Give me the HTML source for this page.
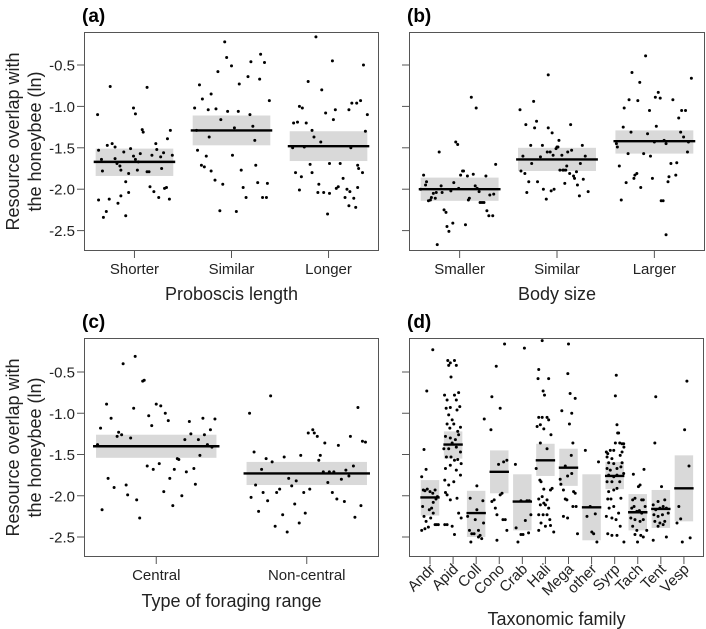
<!DOCTYPE html>
<html><head><meta charset="utf-8">
<style>
html,body{margin:0;padding:0;background:#fff;}
svg{display:block;font-family:"Liberation Sans",Arial,sans-serif;}
</style></head>
<body>
<svg id="chart" width="706" height="629" viewBox="0 0 706 629" xmlns="http://www.w3.org/2000/svg"></svg>
<script>
// ---------- Panel (a) Proboscis length ----------
const aCats = ["Shorter","Similar","Longer"];
const aMeans = [-1.67,-1.29,-1.48];
const aLo = [-1.84,-1.47,-1.66];
const aHi = [-1.51,-1.11,-1.30];
const aVals = [
 [-1.10,-0.76,-1.53,-1.78,-1.47,-1.45,-1.49,-1.77,-1.63,-1.69,-1.72,-1.91,-1.55,-1.81,-1.51,-1.60,-1.64,-1.67,-1.57,-1.02,-1.09,-1.28,-1.31,-0.77,-1.77,-1.79,-1.59,-1.45,-1.52,-1.61,-1.75,-1.56,-1.39,-1.29,-1.59,-1.79,-2.13,-2.34,-2.27,-2.12,-2.17,-2.08,-2.32,-2.04,-1.97,-2.03,-2.10,-1.99,-1.98,-2.12,-1.64],
 [-1.02,-0.74,-0.91,-0.85,-1.04,-1.03,-0.58,-1.16,-0.22,-0.41,-0.51,-1.06,-1.06,-0.73,-0.64,-0.46,-0.67,-0.37,-0.47,-0.93,-1.10,-1.41,-1.24,-1.26,-1.37,-1.53,-1.71,-1.73,-1.60,-1.89,-1.94,-1.59,-1.77,-1.98,-2.10,-1.71,-1.92,-2.10,-2.10,-1.93,-2.26,-2.27,-1.78,-1.29],
 [-0.16,-0.45,-0.70,-0.80,-1.00,-1.02,-1.20,-1.19,-1.20,-1.29,-1.08,-1.16,-1.04,-1.04,-0.96,-0.96,-1.37,-1.43,-1.50,-1.49,-1.50,-1.80,-1.85,-2.01,-1.70,-1.80,-1.94,-2.04,-2.04,-2.05,-2.30,-1.69,-1.69,-1.99,-1.97,-1.87,-2.10,-2.00,-2.03,-2.11,-2.20,-1.71,-0.50,-1.10,-1.30,-1.80,-1.75,-0.93,-2.22,-1.98]
];
const aJit = [
 [-0.38,-0.25,-0.37,-0.33,-0.28,-0.23,-0.20,-0.14,-0.20,-0.18,-0.15,-0.09,-0.11,-0.06,-0.04,-0.01,0.01,0.04,0.06,-0.01,0.01,0.08,0.09,0.13,0.03,0.15,0.18,0.22,0.23,0.27,0.28,0.30,0.34,0.37,0.39,0.13,-0.37,-0.32,-0.29,-0.26,-0.17,-0.14,-0.09,-0.06,0.16,0.20,0.25,0.31,0.33,0.36,-0.34],
 [-0.38,-0.33,-0.30,-0.21,-0.24,-0.16,-0.14,-0.11,-0.07,-0.05,0,-0.04,0.07,0.08,0.17,0.20,0.29,0.30,0.34,0.39,0.19,0.24,0.22,0.03,-0.23,-0.35,-0.31,-0.28,-0.26,-0.17,-0.09,0.01,0.10,0.12,0.15,0.25,0.27,0.32,0.36,0.37,-0.12,0.05,-0.21,-0.36],
 [-0.13,0.04,-0.21,-0.07,-0.30,-0.27,-0.36,-0.32,-0.23,-0.17,-0.03,0.05,0.07,0.21,0.24,0.29,-0.15,-0.08,-0.37,-0.25,0.23,-0.34,-0.28,-0.30,-0.19,-0.17,-0.10,-0.11,-0.05,0.01,-0.01,0.01,0.12,0.08,0.10,0.15,0.17,0.19,0.22,0.26,0.21,0.30,0.36,0.40,0.38,0.35,0.31,0.33,0.28,0.30]
];
// ---------- Panel (b) Body size ----------
const bCats = ["Smaller","Similar","Larger"];
const bMeans = [-2.00,-1.64,-1.42];
const bLo = [-2.14,-1.78,-1.57];
const bHi = [-1.86,-1.50,-1.29];
const bVals = [
 [-1.83,-1.95,-1.91,-2.14,-2.13,-2.10,-2.05,-2.11,-2.04,-1.55,-1.96,-2.04,-2.25,-2.28,-2.45,-2.51,-2.41,-2.67,-2.02,-1.92,-1.43,-1.46,-1.99,-1.83,-1.78,-1.78,-2.43,-1.84,-2.13,-2.11,-0.89,-1.82,-1.96,-1.02,-1.99,-2.03,-2.16,-2.16,-2.16,-1.84,-2.26,-2.32,-2.07,-2.32,-2.06,-1.70,-2.00],
 [-1.04,-1.78,-1.60,-1.81,-1.22,-2.04,-1.91,-1.47,-1.69,-0.94,-1.26,-1.18,-1.91,-1.61,-1.47,-2.00,-2.12,-1.55,-1.26,-0.62,-1.55,-2.02,-1.32,-1.59,-2.00,-1.51,-1.49,-1.49,-1.41,-1.77,-1.59,-1.77,-1.77,-1.93,-1.72,-1.55,-1.81,-1.22,-1.53,-1.84,-1.87,-1.79,-1.95,-2.08,-1.69,-1.47,-1.88,-1.60,-2.03,-1.77],
 [-1.45,-1.49,-1.72,-2.13,-1.25,-1.02,-1.92,-1.57,-0.92,-1.31,-0.59,-1.87,-1.83,-1.81,-0.93,-0.71,-1.98,-1.57,-0.39,-1.33,-1.05,-1.60,-1.87,-1.43,-0.89,-1.24,-0.83,-0.90,-2.14,-2.14,-1.41,-1.45,-1.91,-1.85,-1.69,-0.92,-1.83,-1.68,-1.14,-1.31,-1.05,-1.37,-1.05,-1.55,-1.43,-0.66,-2.55]
];
const bJit = [
 [-0.37,-0.35,-0.34,-0.32,-0.30,-0.29,-0.27,-0.25,-0.24,-0.21,-0.19,-0.18,-0.16,-0.14,-0.13,-0.11,-0.07,-0.23,-0.09,-0.06,-0.04,-0.02,-0.01,0.01,0.03,0.04,0.06,0.08,0.09,0.10,0.12,0.14,0.16,0.17,0.18,0.20,0.21,0.23,0.25,0.27,0.28,0.30,0.31,0.34,0.35,0.37,-0.40],
 [-0.38,-0.37,-0.35,-0.33,-0.32,-0.31,-0.29,-0.27,-0.26,-0.24,-0.23,-0.21,-0.20,-0.17,-0.15,-0.14,-0.11,-0.10,-0.09,-0.09,-0.07,-0.06,-0.05,-0.04,-0.03,-0.01,0.00,0.01,0.02,0.03,0.05,0.06,0.07,0.08,0.10,0.11,0.13,0.14,0.15,0.17,0.18,0.20,0.21,0.23,0.24,0.26,0.27,0.29,0.32,0.09],
 [-0.39,-0.38,-0.36,-0.34,-0.32,-0.31,-0.29,-0.27,-0.26,-0.24,-0.23,-0.21,-0.20,-0.18,-0.17,-0.15,-0.14,-0.11,-0.09,-0.07,-0.05,-0.04,-0.02,0.00,0.01,0.02,0.04,0.06,0.07,0.09,0.10,0.12,0.14,0.15,0.17,0.19,0.22,0.23,0.25,0.27,0.28,0.30,0.32,0.34,0.35,0.38,0.12]
];
// ---------- Panel (c) Foraging range ----------
const cCats = ["Central","Non-central"];
const cMeans = [-1.40,-1.73];
const cLo = [-1.54,-1.87];
const cHi = [-1.26,-1.59];
const cVals = [
 [-1.38,-1.18,-2.17,-0.89,-1.79,-1.06,-1.90,-1.28,-1.23,-1.26,-0.40,-1.87,-1.99,-1.30,-0.94,-0.31,-2.05,-2.27,-0.61,-0.60,-1.64,-1.03,-1.15,-1.68,-0.89,-1.61,-0.91,-1.95,-1.00,-1.09,-1.79,-2.12,-1.68,-1.55,-1.56,-2.00,-1.32,-1.71,-1.10,-1.25,-1.67,-1.86,-1.32,-1.51,-1.06,-1.26,-1.38,-1.20,-1.41,-1.07],
 [-1.00,-2.02,-1.47,-1.87,-2.19,-1.68,-1.96,-1.55,-2.06,-0.79,-1.59,-2.37,-1.96,-1.92,-2.23,-1.53,-2.44,-1.79,-1.88,-2.10,-1.82,-2.33,-1.51,-1.96,-2.21,-1.24,-1.92,-1.20,-1.24,-1.28,-1.57,-1.51,-1.71,-1.36,-1.84,-1.71,-1.96,-1.71,-2.04,-1.39,-1.80,-2.07,-1.69,-1.76,-1.28,-1.64,-2.26,-0.93,-2.12,-1.34,-1.35]
];
const cJit = [
 [-0.39,-0.37,-0.36,-0.33,-0.32,-0.30,-0.28,-0.26,-0.25,-0.23,-0.22,-0.20,-0.19,-0.17,-0.15,-0.14,-0.13,-0.11,-0.09,-0.08,-0.06,-0.05,-0.03,-0.02,0.00,0.02,0.03,0.05,0.06,0.08,0.09,0.11,0.12,0.14,0.15,0.17,0.19,0.20,0.22,0.23,0.25,0.26,0.28,0.29,0.31,0.32,0.34,0.36,0.37,0.39],
 [-0.38,-0.37,-0.35,-0.34,-0.32,-0.30,-0.29,-0.27,-0.26,-0.24,-0.23,-0.21,-0.20,-0.18,-0.16,-0.15,-0.13,-0.12,-0.10,-0.08,-0.07,-0.05,-0.04,-0.02,-0.01,0.01,0.02,0.04,0.05,0.07,0.08,0.09,0.11,0.12,0.14,0.15,0.17,0.18,0.20,0.21,0.23,0.25,0.26,0.28,0.29,0.31,0.32,0.34,0.36,0.37,0.39]
];
// ---------- Panel (d) Taxonomic family ----------
const dCats = ["Andr","Apid","Coll","Cono","Crab","Hali","Mega","other","Syrp","Tach","Tent","Vesp"];
const dMeans = [-2.02,-1.38,-2.21,-1.71,-2.07,-1.57,-1.66,-2.14,-1.76,-2.20,-2.16,-1.91];
const dLo = [-2.24,-1.55,-2.50,-1.97,-2.42,-1.76,-1.88,-2.54,-1.92,-2.42,-2.39,-2.31];
const dHi = [-1.81,-1.22,-1.94,-1.45,-1.74,-1.37,-1.43,-1.74,-1.59,-1.98,-1.93,-1.51];
const dVals = [
 [-0.23,-0.73,-1.44,-1.68,-1.77,-1.93,-1.94,-1.92,-1.95,-1.97,-1.93,-2.01,-2.13,-2.25,-2.31,-2.17,-2.15,-2.21,-2.35,-2.35,-2.35,-2.42,-2.40,-2.38,-2.27,-2.04,-2.08],
 [-0.36,-0.39,-0.36,-0.42,-0.42,-0.56,-0.78,-0.84,-0.93,-0.78,-0.84,-0.75,-0.94,-1.02,-1.08,-0.96,-0.92,-1.13,-1.18,-1.13,-1.22,-1.17,-1.28,-1.30,-1.32,-1.26,-1.43,-1.43,-1.36,-1.41,-1.47,-1.53,-1.53,-1.57,-1.56,-1.61,-1.67,-1.63,-1.69,-1.75,-1.81,-1.87,-1.83,-2.03,-1.99,-2.05,-1.96,-2.21,-2.27,-2.35,-2.37,-2.47,-2.35],
 [-1.07,-1.88,-2.06,-2.03,-2.25,-2.42,-2.46,-2.46,-2.56,-2.29,-2.42,-2.48,-2.52,-2.33,-2.50,-2.17],
 [-0.16,-0.43,-0.80,-0.94,-1.20,-1.62,-1.59,-2.05,-2.07,-2.15,-2.23,-1.97,-2.29,-2.29,-2.42,-2.54,-1.99,-1.57],
 [-0.21,-1.62,-2.06,-2.06,-2.06,-2.39,-2.47,-2.47,-2.45,-2.30,-2.56,-2.23],
 [-0.12,-0.47,-0.58,-0.58,-0.73,-0.78,-1.05,-1.05,-1.05,-1.08,-1.16,-1.14,-1.19,-1.26,-1.36,-1.43,-1.81,-1.83,-1.92,-2.04,-2.01,-2.05,-1.93,-1.91,-2.11,-2.11,-2.15,-2.23,-2.23,-2.23,-2.29,-2.33,-2.37,-2.36,-2.42,-2.44,-2.09,-1.67],
 [-0.16,-0.52,-0.76,-0.82,-0.97,-1.00,-1.13,-1.36,-1.51,-1.64,-1.73,-1.76,-1.80,-1.86,-1.93,-2.04,-2.05,-1.95,-1.97,-2.13,-2.13,-2.25,-2.27,-2.46],
 [-1.45,-1.59,-2.25,-2.22,-2.44,-2.46,-2.56,-2.13],
 [-0.54,-0.79,-1.14,-1.24,-1.24,-1.36,-1.36,-1.37,-1.37,-1.41,-1.47,-1.49,-1.45,-1.45,-1.53,-1.55,-1.51,-1.60,-1.61,-1.60,-1.67,-1.69,-1.67,-1.65,-1.73,-1.75,-1.77,-1.75,-1.83,-1.83,-1.83,-1.95,-1.93,-1.91,-2.04,-2.04,-2.03,-2.15,-2.13,-2.21,-2.25,-2.27,-2.29,-2.37,-2.46,-2.48,-2.48,-2.56,-1.47],
 [-1.74,-1.68,-1.87,-1.89,-2.05,-2.05,-2.05,-2.03,-2.15,-2.13,-2.19,-2.18,-2.21,-2.13,-2.27,-2.29,-2.31,-2.29,-2.37,-2.42,-2.48,-2.50,-2.47,-2.56,-2.42],
 [-0.80,-1.36,-1.89,-2.11,-2.07,-2.05,-2.15,-2.13,-2.17,-2.15,-2.23,-2.25,-2.23,-2.21,-2.31,-2.33,-2.31,-2.37,-2.50,-2.54,-2.35],
 [-0.61,-1.20,-1.64,-2.13,-2.33,-2.28,-2.56,-2.51]
];
const dJit = [
 [0.12,-0.14,-0.26,-0.17,-0.36,-0.29,-0.22,-0.12,0,0.12,0.22,0.32,-0.32,-0.26,-0.17,-0.03,0.07,0.14,0.22,0.29,0.36,-0.36,-0.22,-0.07,0.03,0.26,0.14],
 [-0.23,-0.12,0.06,0.14,-0.19,-0.09,-0.37,-0.26,-0.12,0.06,0.14,0.24,-0.30,-0.19,-0.04,0.17,0.29,-0.26,-0.14,0.03,0.20,0.32,-0.33,-0.12,0.10,0.24,-0.40,-0.19,-0.04,0.14,0.32,-0.29,-0.09,0.06,0.20,0.35,-0.33,-0.12,0.14,0.32,-0.36,-0.19,0.03,0.17,-0.26,-0.12,-0.33,0.24,0.35,-0.26,-0.04,0.06,-0.36],
 [0.35,0.03,0.29,-0.26,-0.37,-0.29,-0.19,-0.09,-0.23,-0.04,0.10,0.17,0.24,0.32,0.10,0.03],
 [0.23,-0.13,-0.32,0.04,-0.36,-0.03,0.19,-0.22,-0.32,-0.17,-0.10,0.12,0.16,0.26,0.33,-0.10,0.04,0.33],
 [0.09,-0.30,0.20,0.30,-0.06,-0.27,-0.06,0.03,0.27,0.13,-0.19,0.37],
 [-0.14,-0.29,-0.32,0.14,-0.10,-0.04,-0.29,-0.14,0.07,0.14,-0.36,-0.22,-0.07,0.24,-0.22,0.07,-0.24,-0.19,-0.07,-0.29,-0.14,0.07,0.22,0.29,-0.22,0,0.14,-0.29,-0.10,0.07,0.19,-0.19,0,0.22,-0.29,0.36,-0.07,-0.40],
 [0,-0.03,0.07,0.29,-0.29,0.14,0.04,0.19,0.12,-0.14,0.14,-0.04,-0.36,-0.33,-0.22,-0.14,-0.07,0.22,0.29,0.19,0.33,-0.22,-0.04,0.39],
 [-0.27,0.30,-0.20,0.16,0.01,0.09,0.23,-0.06],
 [0.07,0.03,0.10,0.13,0.17,0.03,0.22,0.32,0.39,0.40,-0.36,-0.30,-0.19,-0.04,-0.33,-0.12,0.24,-0.26,-0.04,0.32,-0.33,-0.19,0.10,0.27,0.39,-0.26,-0.04,0.10,-0.33,-0.12,0.22,-0.26,-0.04,0.10,-0.30,-0.16,0.27,-0.24,-0.04,0.17,-0.36,-0.12,0.06,0.24,-0.30,-0.12,0.10,0.40,0.32],
 [-0.19,0.27,0.10,0.03,0.17,0.24,-0.22,-0.12,-0.26,-0.16,-0.04,0.07,0.17,0.32,-0.30,-0.12,0.10,0.24,-0.22,-0.04,0.13,0.24,-0.12,-0.01,0.39],
 [-0.22,-0.26,0.03,-0.33,-0.12,0.17,-0.04,0.10,-0.22,0.24,-0.30,-0.12,0.07,0.32,-0.26,-0.04,0.17,-0.12,0.24,-0.33,0.10],
 [0.13,0.03,0.22,-0.22,-0.30,-0.14,-0.07,0.27]
];
const yTicks = [-0.5,-1.0,-1.5,-2.0,-2.5];
const yTickLabels = ["-0.5","-1.0","-1.5","-2.0","-2.5"];

const NS = "http://www.w3.org/2000/svg";
const svg = document.getElementById('chart');
function mk(tag, attrs, parent, text){
  const e = document.createElementNS(NS, tag);
  for (const k in attrs) e.setAttribute(k, attrs[k]);
  if (text !== undefined) e.textContent = text;
  (parent||svg).appendChild(e);
  return e;
}

function panel(cfg){
  const g = mk('g', {});
  
  
  const L=cfg.box[0], T=cfg.box[1], R=cfg.box[2], B=cfg.box[3];
  const xs = v => L + (v - cfg.xdom[0]) / (cfg.xdom[1]-cfg.xdom[0]) * (R-L);
  const unit = (R-L)/(cfg.xdom[1]-cfg.xdom[0]);
  const ys = v => cfg.y0 + (-0.5 - v) * cfg.yk;
  cfg.cats.forEach((c,i)=>{
    const cx = xs(i+1);
    const band = mk('rect',{x:cx-0.4*unit, y:ys(cfg.hi[i]), width:0.8*unit, height:ys(cfg.lo[i])-ys(cfg.hi[i]), fill:'#d9d9d9'}, g);
    
    
  });
  cfg.cats.forEach((c,i)=>{
    const cx = xs(i+1);
    const vals = cfg.vals[i], jit = cfg.jit[i];
    vals.forEach((v,j)=>{
      const p = mk('circle',{cx:cx + jit[j]*unit, cy:ys(v), r:1.5, fill:'#000'}, g);
      
      
    });
  });
  cfg.cats.forEach((c,i)=>{
    const cx = xs(i+1);
    const ml = mk('line',{x1:cx-0.42*unit, x2:cx+0.42*unit, y1:ys(cfg.means[i]), y2:ys(cfg.means[i]), stroke:'#000', 'stroke-width':2.4}, g);
    
    
  });
  const box = mk('rect',{x:L+0.5, y:T+0.5, width:R-L-1, height:B-T-1, fill:'none', stroke:'#555', 'stroke-width':1}, g);
  
  
  yTicks.forEach((t,i)=>{
    const tk = mk('line',{x1:L-7, x2:L, y1:ys(t), y2:ys(t), stroke:'#555'}, g);
    
    
    if (cfg.ylabels){
      const tl = mk('text',{x:L-9, y:ys(t)+5.5, 'text-anchor':'end', 'font-size':15, fill:'#222'}, g, yTickLabels[i]);
      
      
    }
  });
  cfg.cats.forEach((c,i)=>{
    const cx = xs(i+1);
    const tk = mk('line',{x1:cx, x2:cx, y1:B, y2:B+7, stroke:'#555'}, g);
    
    
    let tl;
    if (cfg.rot){
      tl = mk('text',{x:cx+6, y:B+13, 'text-anchor':'end', 'font-size':15, fill:'#222', transform:'rotate(-45 '+(cx+6)+' '+(B+13)+')'}, g, c);
    } else {
      tl = mk('text',{x:cx, y:B+23, 'text-anchor':'middle', 'font-size':15, fill:'#222'}, g, c);
    }
    
    
  });
  const xt = mk('text',{x:(L+R)/2, y:cfg.xtY, 'text-anchor':'middle', 'font-size':18, fill:'#222'}, g, cfg.xtitle);
  
  
  const pl = mk('text',{x:L-2, y:T-10, 'font-size':19, 'font-weight':'bold', fill:'#000'}, g, cfg.label);
  
  
  if (cfg.ylabels){
    const my = (T+B)/2;
    const t1 = mk('text',{x:19, y:my, 'text-anchor':'middle', 'font-size':18, fill:'#222', transform:'rotate(-90 19 '+my+')'}, g, 'Resource overlap with');
    
    
    const t2 = mk('text',{x:41, y:my, 'text-anchor':'middle', 'font-size':18, fill:'#222', transform:'rotate(-90 41 '+my+')'}, g, 'the honeybee (ln)');
    
    
  }
}

panel({id:'a', label:'(a)', box:[84,32,379,251], xdom:[0.48,3.52], y0:65, yk:82.8, cats:aCats, means:aMeans, lo:aLo, hi:aHi, vals:aVals, jit:aJit, ylabels:true, xtitle:'Proboscis length', xtY:300});
panel({id:'b', label:'(b)', box:[409,32,705,251], xdom:[0.48,3.52], y0:65, yk:82.8, cats:bCats, means:bMeans, lo:bLo, hi:bHi, vals:bVals, jit:bJit, ylabels:false, xtitle:'Body size', xtY:300});
panel({id:'c', label:'(c)', box:[84,338,379,557], xdom:[0.52,2.48], y0:372, yk:82.5, cats:cCats, means:cMeans, lo:cLo, hi:cHi, vals:cVals, jit:cJit, ylabels:true, xtitle:'Type of foraging range', xtY:607});
panel({id:'d', label:'(d)', box:[409,338,704,557], xdom:[0.09,12.87], y0:372, yk:82.5, cats:dCats, means:dMeans, lo:dLo, hi:dHi, vals:dVals, jit:dJit, ylabels:false, rot:true, xtitle:'Taxonomic family', xtY:625});
</script>
</body></html>
